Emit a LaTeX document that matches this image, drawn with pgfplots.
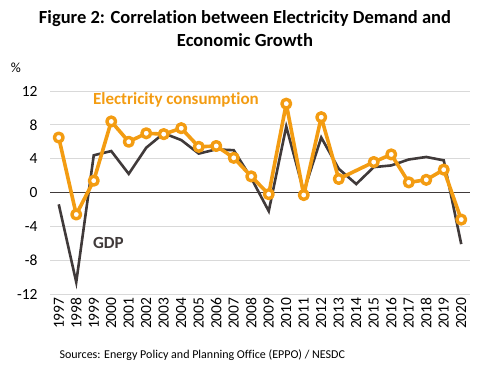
\documentclass[border=0pt]{standalone}
\usepackage{pgfplots}
\pgfplotsset{compat=1.18}
\usepackage{fontspec}
\setmainfont[Ligatures=CommonOff]{Carlito}
\definecolor{elec}{RGB}{243,156,18}
\definecolor{gdp}{RGB}{64,58,58}
\definecolor{gridc}{RGB}{217,217,217}
\begin{document}
\begin{tikzpicture}
\begin{axis}[
  scale only axis, width=420pt, height=203pt,
  xmin=-0.5, xmax=23.5, ymin=-12, ymax=12,
  xtick={0,...,23},
  xticklabels={1997,1998,1999,2000,2001,2002,2003,2004,2005,2006,2007,2008,2009,2010,2011,2012,2013,2014,2015,2016,2017,2018,2019,2020},
  xticklabel style={rotate=90, anchor=east, font=\fontsize{15.5}{17}\selectfont},
  ytick={-12,-8,-4,0,4,8,12},
  yticklabel style={font=\fontsize{15.5}{17}\selectfont, xshift=-9pt},
  /pgf/number format/assume math mode=true,
  major tick length=0pt,
  axis line style={draw=none},
  ymajorgrids, major grid style={gridc, line width=0.8pt},
  extra y ticks={0}, extra y tick labels={},
  extra y tick style={major grid style={gdp, line width=0.9pt}},
  clip=false,
]
\path[use as bounding box] (rel axis cs:-0.11905,1.44828) rectangle (rel axis cs:1.04286,-0.38424);
\addplot[gdp, line width=2.6pt, line join=miter, mark=none] coordinates {
(0,-1.4) (1,-10.6) (2,4.4) (3,4.9) (4,2.2) (5,5.3) (6,7.0) (7,6.2) (8,4.6) (9,5.1) (10,5.0) (11,1.7) (12,-2.2) (13,7.8) (14,0.1) (15,6.5) (16,2.8) (17,1.0) (18,3.0) (19,3.2) (20,3.9) (21,4.2) (22,3.8) (23,-6.1)
};
\addplot[elec, line width=3.6pt, line join=round, mark=*, mark size=4.4pt,
  mark options={fill=white, draw=elec, line width=3.4pt},
  mark indices={1,2,3,4,5,6,7,8,9,10,11,12,13,14,15,16,17,19,20,21,22,23,24}] coordinates {
(0,6.5) (1,-2.6) (2,1.4) (3,8.4) (4,6.0) (5,7.0) (6,6.9) (7,7.6) (8,5.4) (9,5.5) (10,4.1) (11,1.9) (12,-0.2) (13,10.5) (14,-0.3) (15,8.9) (16,1.6) (17,2.6) (18,3.6) (19,4.5) (20,1.2) (21,1.5) (22,2.7) (23,-3.2)
};
\node[anchor=west, text=elec, font=\fontsize{17}{19}\selectfont\bfseries, inner sep=0pt] at (axis cs:1.95,10.9) {Electricity consumption};
\node[anchor=west, text=gdp, font=\fontsize{17}{19}\selectfont\bfseries, inner sep=0pt] at (axis cs:1.95,-6.0) {GDP};
\node[font=\fontsize{18.5}{23}\selectfont\bfseries, align=center, text=black] at (rel axis cs:0.4643,1.3079) {Figure 2: Correlation between Electricity Demand and\\Economic Growth};
\node[font=\fontsize{14}{16}\selectfont, text=black] at (rel axis cs:-0.081,1.1133) {\%};
\node[font=\fontsize{12}{14}\selectfont, text=black, anchor=west] at (rel axis cs:0.0143,-0.2995) {Sources: Energy Policy and Planning Office (EPPO) / NESDC};
\end{axis}
\end{tikzpicture}
\end{document}
